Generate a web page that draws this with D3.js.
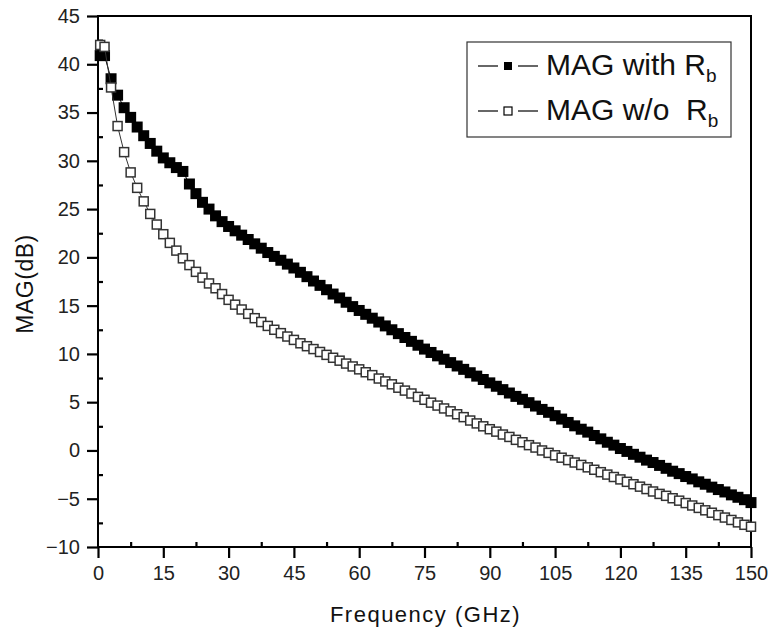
<!DOCTYPE html>
<html>
<head>
<meta charset="utf-8">
<script src="https://cdn.jsdelivr.net/npm/d3@7/dist/d3.min.js"></script>
<style>
  html, body { margin: 0; padding: 0; background: #fff; }
  svg { display: block; font-family: "Liberation Sans", Arial, sans-serif; }
</style>
</head>
<body>
<svg id="chart" width="772" height="634"></svg>
<script>
// ---- data ----
const frequency = [0.5, 1.5, 3, 4.5, 6, 7.5, 9, 10.5, 12, 13.5, 15, 16.5, 18, 19.5, 21, 22.5, 24, 25.5, 27, 28.5,
  30, 31.5, 33, 34.5, 36, 37.5, 39, 40.5, 42, 43.5, 45, 46.5, 48, 49.5, 51, 52.5, 54, 55.5, 57, 58.5,
  60, 61.5, 63, 64.5, 66, 67.5, 69, 70.5, 72, 73.5, 75, 76.5, 78, 79.5, 81, 82.5, 84, 85.5, 87, 88.5,
  90, 91.5, 93, 94.5, 96, 97.5, 99, 100.5, 102, 103.5, 105, 106.5, 108, 109.5, 111, 112.5, 114, 115.5, 117, 118.5,
  120, 121.5, 123, 124.5, 126, 127.5, 129, 130.5, 132, 133.5, 135, 136.5, 138, 139.5, 141, 142.5, 144, 145.5, 147, 148.5, 150];

const magWithRb = [40.9, 40.9, 38.5, 36.8, 35.5, 34.5, 33.5, 32.6, 31.8, 31.0, 30.3, 29.8, 29.3, 28.9, 27.6, 26.6, 25.7, 25.0, 24.3, 23.7,
  23.2, 22.75, 22.3, 21.85, 21.4, 20.95, 20.5, 20.1, 19.7, 19.3, 18.9, 18.45, 18.0, 17.55, 17.1, 16.65, 16.2, 15.8, 15.35, 14.9,
  14.5, 14.1, 13.7, 13.3, 12.9, 12.5, 12.1, 11.7, 11.3, 10.9, 10.5, 10.15, 9.8, 9.45, 9.1, 8.75, 8.4, 8.05, 7.7, 7.35,
  7.0, 6.65, 6.3, 5.95, 5.6, 5.3, 4.95, 4.6, 4.25, 3.95, 3.6, 3.25, 2.9, 2.55, 2.2, 1.9, 1.55, 1.2, 0.85, 0.55,
  0.2, -0.1, -0.4, -0.7, -1.0, -1.25, -1.55, -1.85, -2.15, -2.4, -2.7, -2.95, -3.25, -3.5, -3.8, -4.05, -4.3, -4.6, -4.85, -5.1, -5.4];

const magWithoutRb = [42.0, 41.8, 37.6, 33.6, 30.9, 28.8, 27.2, 25.8, 24.5, 23.4, 22.4, 21.5, 20.7, 19.9, 19.2, 18.5, 17.9, 17.3, 16.8, 16.2,
  15.6, 15.1, 14.6, 14.15, 13.7, 13.3, 12.9, 12.5, 12.15, 11.8, 11.45, 11.1, 10.8, 10.5, 10.2, 9.9, 9.6, 9.3, 9.0, 8.7,
  8.4, 8.1, 7.8, 7.45, 7.15, 6.85, 6.5, 6.2, 5.9, 5.55, 5.25, 4.95, 4.65, 4.35, 4.05, 3.75, 3.45, 3.1, 2.8, 2.5,
  2.2, 1.95, 1.65, 1.4, 1.1, 0.85, 0.55, 0.3, 0.0, -0.25, -0.5, -0.75, -1.0, -1.25, -1.5, -1.75, -2.0, -2.25, -2.5, -2.75,
  -3.0, -3.25, -3.5, -3.75, -4.0, -4.25, -4.5, -4.7, -4.95, -5.2, -5.45, -5.7, -5.95, -6.2, -6.45, -6.7, -6.95, -7.2, -7.45, -7.7, -7.9];

const xTicks = [0, 15, 30, 45, 60, 75, 90, 105, 120, 135, 150];
const xMinorTicks = [7.5, 22.5, 37.5, 52.5, 67.5, 82.5, 97.5, 112.5, 127.5, 142.5];
const yTicks = [-10, -5, 0, 5, 10, 15, 20, 25, 30, 35, 40, 45];
const yMinorTicks = [-7.5, -2.5, 2.5, 7.5, 12.5, 17.5, 22.5, 27.5, 32.5, 37.5, 42.5];

const seriesNames = ["MAG with ", "MAG w/o  "];

// ---- layout ----
const svg = d3.select("#chart");
const L = 98, R = 751, T = 16, B = 547;
const x = d3.scaleLinear().domain([0, 150]).range([L, R]);
const y = d3.scaleLinear().domain([-10, 45]).range([B, T]);
const FONT = "'Liberation Sans', Arial, sans-serif";

// frame
svg.append("rect").attr("x", L).attr("y", T).attr("width", R - L).attr("height", B - T)
  .attr("fill", "none").attr("stroke", "#000").attr("stroke-width", 2);

// axes: labels + major ticks outward
const xAxis = svg.append("g").attr("transform", `translate(0,${B})`)
  .call(d3.axisBottom(x).tickValues(xTicks).tickSize(11).tickPadding(8).tickFormat(d3.format("d")));
xAxis.select(".domain").remove();
xAxis.selectAll(".tick line").attr("stroke", "#000").attr("stroke-width", 2.2);
xAxis.selectAll("text").attr("font-size", 20).attr("fill", "#222").attr("font-family", FONT);

const yAxis = svg.append("g").attr("transform", `translate(${L},0)`)
  .call(d3.axisLeft(y).tickValues(yTicks).tickSize(11).tickPadding(7).tickFormat(d3.format("d")));
yAxis.select(".domain").remove();
yAxis.selectAll(".tick line").attr("stroke", "#000").attr("stroke-width", 2.2);
yAxis.selectAll("text").attr("font-size", 20).attr("fill", "#222").attr("font-family", FONT);

// minor ticks inward
const xMin = svg.append("g").attr("transform", `translate(0,${B})`)
  .call(d3.axisBottom(x).tickValues(xMinorTicks).tickSizeInner(-5).tickSizeOuter(0).tickFormat(""));
xMin.select(".domain").remove();
xMin.selectAll(".tick line").attr("stroke", "#000").attr("stroke-width", 2.2);
const yMin = svg.append("g").attr("transform", `translate(${L},0)`)
  .call(d3.axisLeft(y).tickValues(yMinorTicks).tickSizeInner(-5).tickSizeOuter(0).tickFormat(""));
yMin.select(".domain").remove();
yMin.selectAll(".tick line").attr("stroke", "#000").attr("stroke-width", 2.2);

// data
const line = d3.line().x(d => x(d[0])).y(d => y(d[1]));
const d1 = frequency.map((f, i) => [f, magWithRb[i]]);
const d2 = frequency.map((f, i) => [f, magWithoutRb[i]]);

svg.append("path").datum(d1).attr("d", line).attr("fill", "none").attr("stroke", "#000").attr("stroke-width", 1);
svg.append("g").selectAll("rect").data(d1).join("rect")
  .attr("x", d => x(d[0]) - 5.5).attr("y", d => y(d[1]) - 5.5)
  .attr("width", 11).attr("height", 11).attr("fill", "#000");

svg.append("path").datum(d2).attr("d", line).attr("fill", "none").attr("stroke", "#333").attr("stroke-width", 1);
svg.append("g").selectAll("rect").data(d2).join("rect")
  .attr("x", d => x(d[0]) - 4.5).attr("y", d => y(d[1]) - 4.5)
  .attr("width", 9).attr("height", 9).attr("fill", "#fff").attr("stroke", "#333").attr("stroke-width", 1.5);

// axis titles
svg.append("text").attr("x", (L + R) / 2 + 1).attr("y", 622).attr("text-anchor", "middle")
  .attr("font-size", 22).attr("letter-spacing", 1.5).attr("fill", "#111").attr("font-family", FONT)
  .text("Frequency (GHz)");
svg.append("text").attr("transform", `translate(33,284) rotate(-90)`).attr("text-anchor", "middle")
  .attr("font-size", 23).attr("letter-spacing", 0.5).attr("fill", "#111").attr("font-family", FONT)
  .text("MAG(dB)");

// legend
const lg = svg.append("g");
lg.append("rect").attr("x", 467).attr("y", 42).attr("width", 264).attr("height", 95)
  .attr("fill", "#fff").attr("stroke", "#333").attr("stroke-width", 1.2);
const rows = [66, 111];
rows.forEach((cy, i) => {
  lg.append("line").attr("x1", 478).attr("x2", 498).attr("y1", cy).attr("y2", cy)
    .attr("stroke", "#000").attr("stroke-width", 1.2);
  lg.append("line").attr("x1", 518).attr("x2", 538).attr("y1", cy).attr("y2", cy)
    .attr("stroke", "#000").attr("stroke-width", 1.2);
  const s = 8;
  lg.append("rect").attr("x", 508 - s / 2).attr("y", cy - s / 2).attr("width", s).attr("height", s)
    .attr("fill", i === 0 ? "#000" : "#fff").attr("stroke", "#000").attr("stroke-width", i === 0 ? 0 : 1.2);
  const t = lg.append("text").attr("x", 546).attr("y", cy + 9).attr("font-size", 30).attr("fill", "#111")
    .attr("font-family", FONT).style("white-space", "pre");
  t.append("tspan").text(seriesNames[i] + "R");
  t.append("tspan").attr("font-size", 19).attr("dy", 7).text("b");
});
</script>
</body>
</html>
